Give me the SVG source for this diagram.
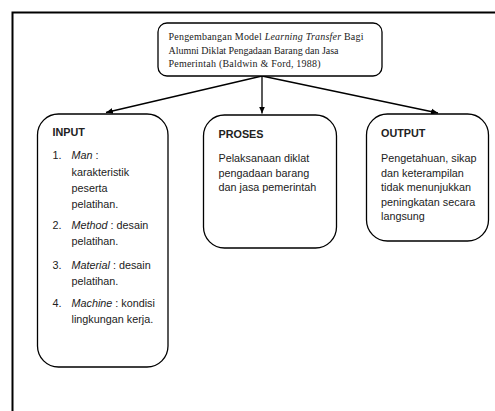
<svg xmlns="http://www.w3.org/2000/svg" width="495" height="411" viewBox="0 0 495 411">
<style>
.box{fill:#fff;stroke:#000;stroke-width:1.3}
.serif{font-family:"Liberation Serif","Times New Roman",serif;font-size:10px;fill:#222}
.sans{font-family:"Liberation Sans",Arial,sans-serif;font-size:10.8px;fill:#222}
.b{font-weight:bold}
.i{font-style:italic}
.conn{stroke:#000;stroke-width:1.3;fill:none;marker-end:url(#ah)}
</style>
<defs>
<marker id="ah" markerUnits="userSpaceOnUse" markerWidth="8" markerHeight="8" viewBox="0 0 8 8" refX="7" refY="4" orient="auto">
<path d="M0,1 L7,4 L0,7 Z" fill="#000"/>
</marker>
</defs>
<rect width="495" height="411" fill="#fff"/>
<g id="frame">
<path d="M12.5,411 V12.5 H495" fill="none" stroke="#000" stroke-width="2"/>
</g>
<g id="connectors">
<line class="conn" x1="262" y1="76" x2="106" y2="112.5"/>
<line class="conn" x1="262" y1="76" x2="262" y2="113.5"/>
<line class="conn" x1="262" y1="76" x2="438" y2="113"/>
</g>
<g id="title">
<rect class="box" x="158" y="23" width="224" height="53" rx="9"/>
<text class="serif" x="168.5" y="40" textLength="195" lengthAdjust="spacing">Pengembangan Model <tspan class="i">Learning Transfer</tspan> Bagi</text>
<text class="serif" x="168.5" y="53.5" textLength="170" lengthAdjust="spacing">Alumni Diklat  Pengadaan Barang dan Jasa</text>
<text class="serif" x="168.5" y="66.5" textLength="152" lengthAdjust="spacing">Pemerintah  (Baldwin  &amp; Ford, 1988)</text>
</g>
<g id="input">
<rect class="box" x="37.5" y="114" width="130.5" height="253" rx="21"/>
<text class="sans b" x="52.5" y="136">INPUT</text>
<text class="sans" x="52.5" y="159">1.</text>
<text class="sans" x="71.5" y="159"><tspan class="i">Man</tspan> :</text>
<text class="sans" x="71.5" y="175.5">karakteristik</text>
<text class="sans" x="71.5" y="191.5">peserta</text>
<text class="sans" x="71.5" y="207.5">pelatihan.</text>
<text class="sans" x="52.5" y="229">2.</text>
<text class="sans" x="71.5" y="229"><tspan class="i">Method</tspan> : desain</text>
<text class="sans" x="71.5" y="244.5">pelatihan.</text>
<text class="sans" x="52.5" y="268.5">3.</text>
<text class="sans" x="71.5" y="268.5"><tspan class="i">Material</tspan> : desain</text>
<text class="sans" x="71.5" y="284.5">pelatihan.</text>
<text class="sans" x="52.5" y="307">4.</text>
<text class="sans" x="71.5" y="307"><tspan class="i">Machine</tspan> : kondisi</text>
<text class="sans" x="71.5" y="323">lingkungan kerja.</text>
</g>
<g id="proses">
<rect class="box" x="203.5" y="115" width="133" height="133" rx="21"/>
<text class="sans b" x="218.5" y="138">PROSES</text>
<text class="sans" x="218.5" y="162">Pelaksanaan diklat</text>
<text class="sans" x="218.5" y="176.5">pengadaan barang</text>
<text class="sans" x="218.5" y="191">dan jasa pemerintah</text>
</g>
<g id="output">
<rect class="box" x="366.5" y="114" width="122" height="127" rx="21"/>
<text class="sans b" x="381" y="136.5">OUTPUT</text>
<text class="sans" x="381" y="162">Pengetahuan, sikap</text>
<text class="sans" x="381" y="176.5">dan keterampilan</text>
<text class="sans" x="381" y="191">tidak menunjukkan</text>
<text class="sans" x="381" y="205.5">peningkatan secara</text>
<text class="sans" x="381" y="220">langsung</text>
</g>
</svg>
